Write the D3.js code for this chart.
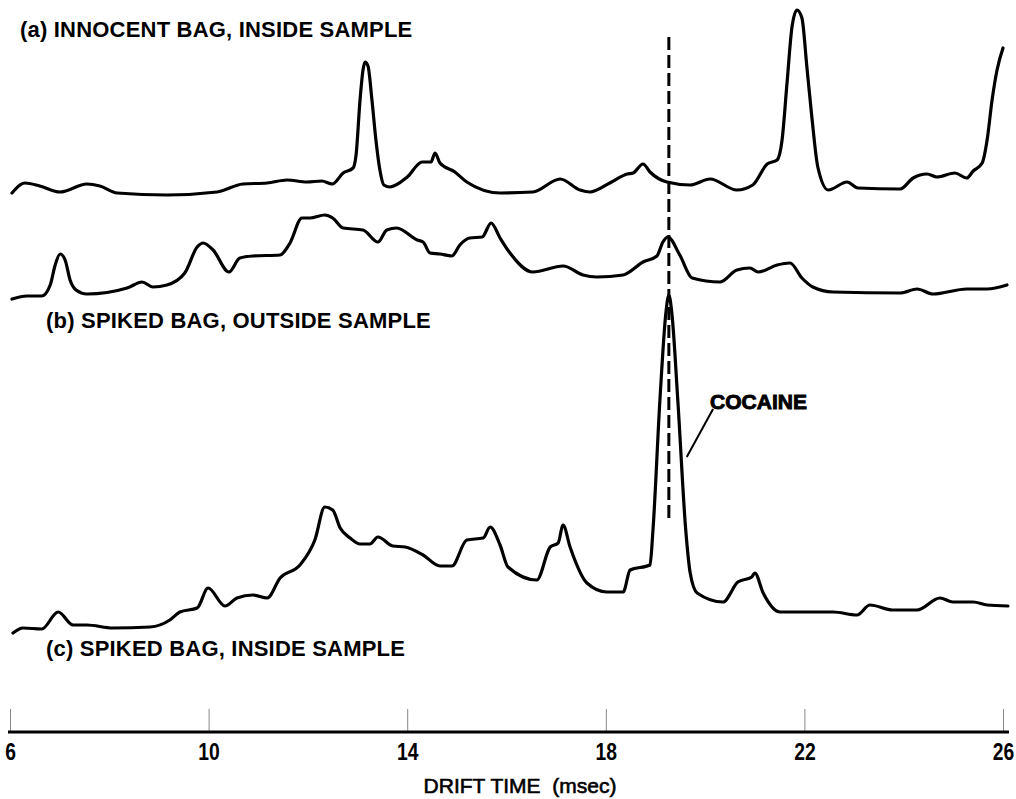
<!DOCTYPE html>
<html>
<head>
<meta charset="utf-8">
<script src="https://cdn.jsdelivr.net/npm/d3@7"></script>
<style>
  html, body { margin: 0; padding: 0; background: #fff; }
  svg { display: block; }
</style>
</head>
<body>
<svg id="chart" width="1016" height="799"></svg>
<script>
// ---- Data (drift time in msec, intensity in arbitrary units) ----
const traceA = [
  [6.04,1],[6.30,6],[6.60,4.5],[7.01,1.5],[7.55,5.5],[7.81,4.5],[8.16,1],[9.16,0],
  [10.17,1.5],[10.69,5.5],[11.18,6],[11.58,7.5],[11.98,6.5],[12.28,7],[12.49,5.5],
  [12.71,11],[12.91,13.5],[12.97,20],[13.05,47.5],[13.11,62.5],[13.15,66.5],[13.21,64.5],
  [13.29,47.5],[13.37,27.5],[13.45,12.5],[13.53,5],[13.65,4],[14.00,9],[14.30,16.5],
  [14.48,16.5],[14.56,21],[14.66,16],[14.96,11.5],[15.20,6.5],[15.87,1],[16.53,1.5],
  [17.08,8],[17.48,2.5],[17.68,1.5],[18.08,6],[18.43,10.5],[18.55,11],[18.75,15.5],
  [18.89,11.5],[19.23,6.5],[19.70,5],[20.10,8],[20.64,2.5],[20.96,5],[21.25,15.5],
  [21.45,17.5],[21.55,27.5],[21.65,56],[21.75,84],[21.85,92.5],[21.95,88.5],[22.05,64],
  [22.15,39],[22.27,14],[22.48,2.5],[22.86,6.5],[23.08,3.5],[23.93,3],[24.19,8.5],
  [24.47,10.5],[24.67,9],[25.03,11],[25.27,8.5],[25.40,12],[25.58,16],[25.68,27.5],
  [25.78,47.5],[25.88,62.5],[26.00,73.5]
];
const traceB = [
  [6.04,0.5],[6.34,2],[6.64,2],[6.81,7.5],[6.91,17.5],[7.01,23],[7.11,20],[7.21,10],
  [7.33,5],[7.55,3],[8.36,6],[8.66,9],[8.88,6.5],[9.16,7.5],[9.52,13.5],[9.77,26.5],
  [9.89,28.5],[10.09,25],[10.41,14],[10.63,21],[10.89,22],[11.44,22.5],[11.64,28.5],
  [11.88,41],[12.04,41],[12.34,42.5],[12.50,41],[12.71,36],[13.11,35],[13.41,29],
  [13.59,35],[13.79,36],[14.20,30],[14.32,29],[14.46,23.5],[14.66,23],[14.90,22],
  [15.06,27.5],[15.26,31],[15.51,31.5],[15.69,38.5],[15.87,31],[16.07,23.5],[16.53,14],
  [17.14,17],[17.54,12.5],[17.82,11.5],[18.35,12.5],[18.75,19],[19.03,22],[19.15,29],
  [19.25,31.5],[19.49,22.5],[19.74,11],[20.30,9],[20.64,15],[20.90,16],[21.07,14],
  [21.45,17.5],[21.71,18.5],[21.95,11],[22.17,6.5],[22.58,4],[23.93,3.5],[24.27,5.5],
  [24.59,3],[25.27,5.5],[25.68,5.5],[26.08,7.5]
];
const traceC = [
  [6.06,1],[6.26,3.5],[6.64,3],[6.97,11.5],[7.27,5],[7.55,5],[8.07,3.5],[8.82,4],
  [9.22,7.5],[9.42,11.5],[9.77,13.5],[9.99,23.5],[10.33,14.5],[10.57,18.5],[10.89,20],
  [11.18,18.5],[11.44,28.5],[11.84,35],[12.14,47.5],[12.34,64],[12.50,62.5],[12.65,53.5],
  [12.85,48.5],[13.05,45.5],[13.25,45.5],[13.41,49],[13.71,44.5],[13.96,44],[14.32,40],
  [14.66,34.5],[14.90,34.5],[15.20,47.5],[15.53,48.5],[15.67,54],[15.87,45],[16.03,34],
  [16.61,27.5],[16.88,44],[17.04,46],[17.14,55],[17.28,44],[17.62,26],[18.02,21.5],
  [18.35,21.5],[18.49,32.5],[18.89,35],[18.95,52.5],[19.09,117.5],[19.21,161],[19.27,170],
  [19.33,161],[19.45,117.5],[19.61,52.5],[19.70,31],[19.84,21],[20.36,16.5],[20.66,26.5],
  [20.94,29],[21.00,31],[21.17,21],[21.51,11.5],[21.77,11.5],[22.58,11.5],[23.06,10],
  [23.32,15],[23.78,12.5],[24.27,12.5],[24.73,18.5],[24.99,16.5],[25.40,16.5],[25.68,15],
  [26.10,14.5]
];
const traceLabels = ["(a) INNOCENT BAG, INSIDE SAMPLE", "(b) SPIKED BAG, OUTSIDE SAMPLE", "(c) SPIKED BAG, INSIDE SAMPLE"];
const tickValues = [6, 10, 14, 18, 22, 26];
const cocaineTime = 19.27;
const axisTitle = "DRIFT TIME  (msec)";
const peakLabel = "COCAINE";

// ---- Layout ----
const svg = d3.select("#chart");
const x = d3.scaleLinear().domain([6, 26]).range([10, 1003]);
const axisY = 732;

const panels = [
  { data: traceA, base: 195, label: traceLabels[0], lx: 20, ly: 37 },
  { data: traceB, base: 300, label: traceLabels[1], lx: 46, ly: 328 },
  { data: traceC, base: 635, label: traceLabels[2], lx: 46, ly: 656 }
];

panels.forEach(p => {
  const y = d3.scaleLinear().domain([0, 100]).range([p.base, p.base - 200]);
  const line = d3.line().x(d => x(d[0])).y(d => y(d[1])).curve(d3.curveMonotoneX);
  svg.append("path")
    .datum(p.data)
    .attr("d", line)
    .attr("fill", "none")
    .attr("stroke", "#000")
    .attr("stroke-width", 3.2)
    .attr("stroke-linejoin", "round")
    .attr("stroke-linecap", "round");
  svg.append("text")
    .attr("x", p.lx).attr("y", p.ly)
    .attr("font-family", "'Liberation Sans', Arial, sans-serif")
    .attr("font-weight", "bold")
    .attr("font-size", 22)
    .attr("letter-spacing", 0.2)
    .attr("fill", "#000")
    .text(p.label);
});

// dashed marker line
svg.append("line")
  .attr("x1", x(cocaineTime)).attr("x2", x(cocaineTime))
  .attr("y1", 37).attr("y2", 521)
  .attr("stroke", "#000").attr("stroke-width", 3)
  .attr("stroke-dasharray", "13,5");

// cocaine label + pointer
svg.append("line")
  .attr("x1", x(20.16)).attr("y1", 409)
  .attr("x2", x(19.63)).attr("y2", 457)
  .attr("stroke", "#000").attr("stroke-width", 2);
svg.append("text")
  .attr("x", x(20.1)).attr("y", 409)
  .attr("font-family", "'Liberation Sans', Arial, sans-serif")
  .attr("font-weight", "bold")
  .attr("font-size", 21)
  .attr("stroke", "#000").attr("stroke-width", 0.9)
  .attr("fill", "#000")
  .text(peakLabel);

// axis
const axis = d3.axisBottom(x).tickValues(tickValues).tickSize(0).tickFormat(d3.format("d"));
const gAxis = svg.append("g").attr("transform", `translate(0,${axisY})`).call(axis);
gAxis.select(".domain").remove();
gAxis.selectAll(".tick text")
  .attr("y", 28).attr("dy", 0)
  .attr("transform", "scale(0.84,1)")
  .attr("font-family", "'Liberation Sans', Arial, sans-serif")
  .attr("font-weight", "bold")
  .attr("font-size", 23)
  .attr("fill", "#000");
gAxis.selectAll(".tick").append("line")
  .attr("y1", 0).attr("y2", -23)
  .attr("stroke", "#888").attr("stroke-width", 1);
svg.append("line")
  .attr("x1", x(6) - 2).attr("x2", x(26) + 6)
  .attr("y1", axisY).attr("y2", axisY)
  .attr("stroke", "#000").attr("stroke-width", 3);

svg.append("text")
  .attr("x", 520).attr("y", 793)
  .attr("text-anchor", "middle")
  .attr("font-family", "'Liberation Sans', Arial, sans-serif")
  .attr("font-size", 21)
  .attr("stroke", "#000").attr("stroke-width", 0.6)
  .attr("fill", "#000")
  .style("white-space", "pre")
  .text(axisTitle);
</script>
</body>
</html>
